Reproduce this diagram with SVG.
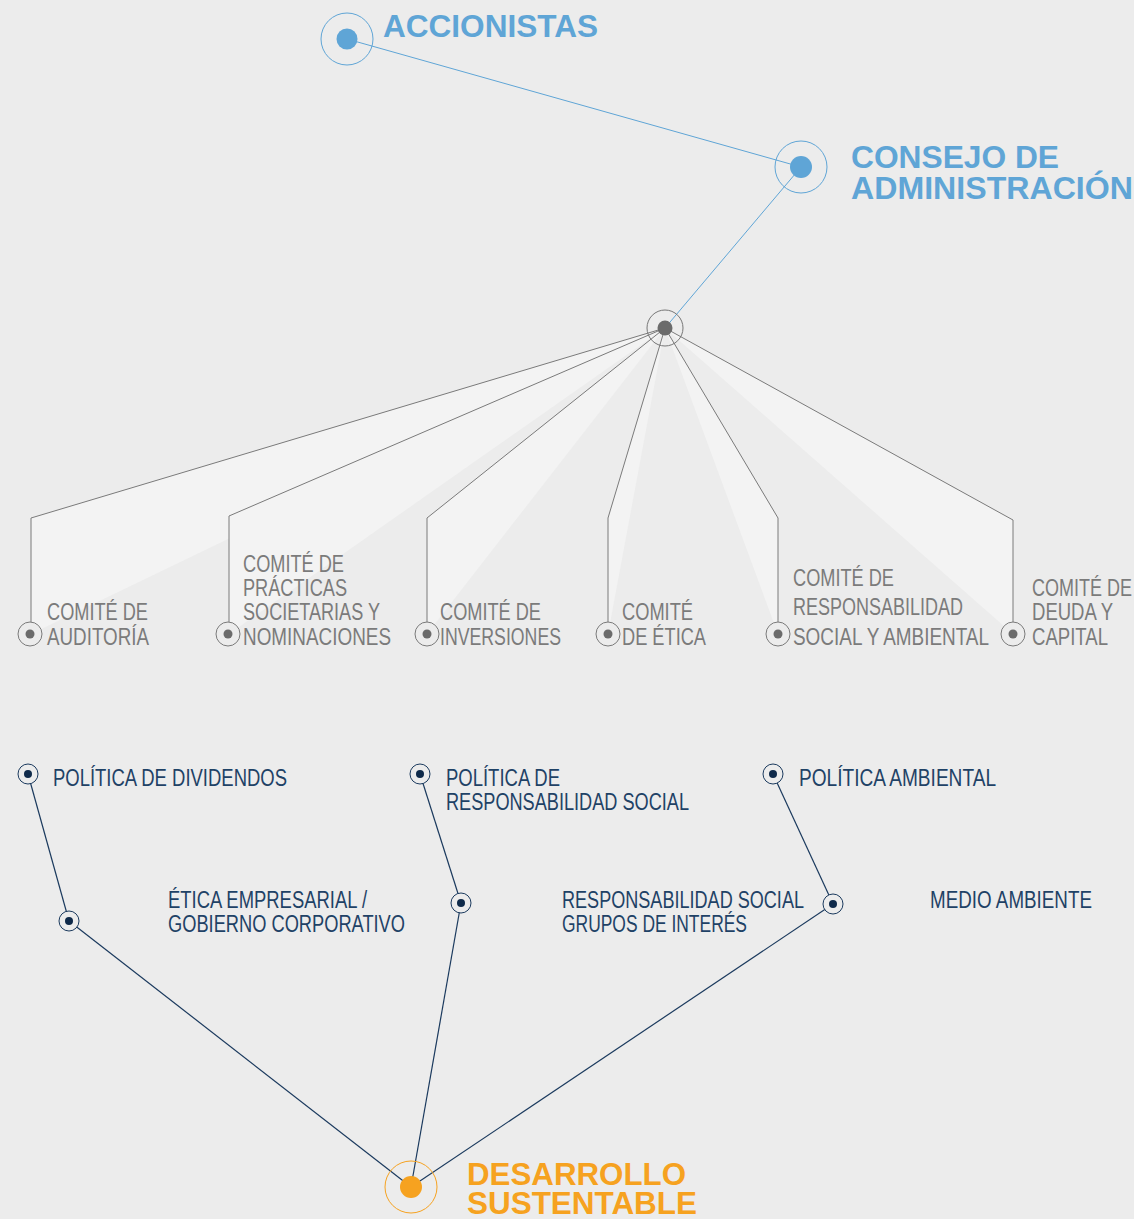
<svg xmlns="http://www.w3.org/2000/svg" width="1134" height="1219" viewBox="0 0 1134 1219">
<style>
.h{font-family:"Liberation Sans",Arial,sans-serif;font-weight:bold;font-size:31px}
.hb{fill:#5fa5d6}
.ho{fill:#f6a220}
.g{font-family:"Liberation Sans",Arial,sans-serif;font-size:23.5px;fill:#7b7b7b}
.n{font-family:"Liberation Sans",Arial,sans-serif;font-size:23px;fill:#1f4266}
.gl{fill:none;stroke:#7a7a7a;stroke-width:1}
.wedge{fill:#f3f3f3;stroke:none}
.nl{stroke:#1b3a5e;stroke-width:1.2;fill:none}
.bl{stroke:#5fa5d6;stroke-width:1;fill:none}
</style>
<rect width="1134" height="1219" fill="#ececec"/>

<g id="wedges">
<polygon class="wedge" points="665,328 31,518 31,634"/>
<polygon class="wedge" points="665,328 229,516 229,634"/>
<polygon class="wedge" points="665,328 427,518 427,634"/>
<polygon class="wedge" points="665,328 608,518 608,634"/>
<polygon class="wedge" points="665,328 778,518 778,634"/>
<polygon class="wedge" points="665,328 1013,520 1013,634"/>
</g>

<g id="connectors">
<line class="bl" x1="347" y1="39" x2="801" y2="167"/>
<line class="bl" x1="801" y1="167" x2="665" y2="328"/>
<polyline class="gl" points="665,328 31,518 31,634"/>
<polyline class="gl" points="665,328 229,516 229,634"/>
<polyline class="gl" points="665,328 427,518 427,634"/>
<polyline class="gl" points="665,328 608,518 608,634"/>
<polyline class="gl" points="665,328 778,518 778,634"/>
<polyline class="gl" points="665,328 1013,520 1013,634"/>
<line class="nl" x1="28" y1="774" x2="69" y2="921"/>
<line class="nl" x1="69" y1="921" x2="411" y2="1187"/>
<line class="nl" x1="420" y1="774" x2="461" y2="903"/>
<line class="nl" x1="461" y1="903" x2="411" y2="1187"/>
<line class="nl" x1="773" y1="774" x2="833" y2="904"/>
<line class="nl" x1="833" y1="904" x2="411" y2="1187"/>
</g>

<g id="accionistas">
<circle cx="347" cy="39" r="26" fill="none" stroke="#5fa5d6" stroke-width="1"/>
<circle cx="347" cy="39" r="10.5" fill="#5fa5d6"/>
<text class="h hb" x="383" y="37" textLength="215" lengthAdjust="spacingAndGlyphs">ACCIONISTAS</text>
</g>

<g id="consejo">
<circle cx="801" cy="167" r="26" fill="none" stroke="#5fa5d6" stroke-width="1"/>
<circle cx="801" cy="167" r="11" fill="#5fa5d6"/>
<text class="h hb" x="851" y="168" textLength="208" lengthAdjust="spacingAndGlyphs">CONSEJO DE</text>
<text class="h hb" x="851" y="199" textLength="282" lengthAdjust="spacingAndGlyphs">ADMINISTRACIÓN</text>
</g>

<g id="hub">
<circle cx="665" cy="328" r="18" fill="none" stroke="#777" stroke-width="1"/>
<circle cx="665" cy="328" r="7.5" fill="#6b6b6b"/>
</g>

<g id="auditoria">
<circle cx="30" cy="634" r="12" fill="#ececec" stroke="#7a7a7a" stroke-width="1"/>
<circle cx="30" cy="634" r="4.5" fill="#6b6b6b"/>
<text class="g" x="47" y="620" textLength="101" lengthAdjust="spacingAndGlyphs">COMITÉ DE</text>
<text class="g" x="47" y="645" textLength="102" lengthAdjust="spacingAndGlyphs">AUDITORÍA</text>
</g>

<g id="practicas">
<circle cx="228" cy="634" r="12" fill="#ececec" stroke="#7a7a7a" stroke-width="1"/>
<circle cx="228" cy="634" r="4.5" fill="#6b6b6b"/>
<text class="g" x="243" y="572" textLength="101" lengthAdjust="spacingAndGlyphs">COMITÉ DE</text>
<text class="g" x="243" y="596" textLength="104" lengthAdjust="spacingAndGlyphs">PRÁCTICAS</text>
<text class="g" x="243" y="620" textLength="137" lengthAdjust="spacingAndGlyphs">SOCIETARIAS Y</text>
<text class="g" x="243" y="645" textLength="148" lengthAdjust="spacingAndGlyphs">NOMINACIONES</text>
</g>

<g id="inversiones">
<circle cx="427" cy="634" r="12" fill="#ececec" stroke="#7a7a7a" stroke-width="1"/>
<circle cx="427" cy="634" r="4.5" fill="#6b6b6b"/>
<text class="g" x="440" y="620" textLength="101" lengthAdjust="spacingAndGlyphs">COMITÉ DE</text>
<text class="g" x="440" y="645" textLength="121" lengthAdjust="spacingAndGlyphs">INVERSIONES</text>
</g>

<g id="etica">
<circle cx="608" cy="634" r="12" fill="#ececec" stroke="#7a7a7a" stroke-width="1"/>
<circle cx="608" cy="634" r="4.5" fill="#6b6b6b"/>
<text class="g" x="622" y="620" textLength="71" lengthAdjust="spacingAndGlyphs">COMITÉ</text>
<text class="g" x="622" y="645" textLength="84" lengthAdjust="spacingAndGlyphs">DE ÉTICA</text>
</g>

<g id="responsabilidad">
<circle cx="778" cy="634" r="12" fill="#ececec" stroke="#7a7a7a" stroke-width="1"/>
<circle cx="778" cy="634" r="4.5" fill="#6b6b6b"/>
<text class="g" x="793" y="586" textLength="101" lengthAdjust="spacingAndGlyphs">COMITÉ DE</text>
<text class="g" x="793" y="615" textLength="170" lengthAdjust="spacingAndGlyphs">RESPONSABILIDAD</text>
<text class="g" x="793" y="645" textLength="196" lengthAdjust="spacingAndGlyphs">SOCIAL Y AMBIENTAL</text>
</g>

<g id="deuda">
<circle cx="1013" cy="634" r="12" fill="#ececec" stroke="#7a7a7a" stroke-width="1"/>
<circle cx="1013" cy="634" r="4.5" fill="#6b6b6b"/>
<text class="g" x="1032" y="596" textLength="100" lengthAdjust="spacingAndGlyphs">COMITÉ DE</text>
<text class="g" x="1032" y="620" textLength="81" lengthAdjust="spacingAndGlyphs">DEUDA Y</text>
<text class="g" x="1032" y="645" textLength="76" lengthAdjust="spacingAndGlyphs">CAPITAL</text>
</g>

<g id="politica-dividendos">
<circle cx="28" cy="774" r="10" fill="#ececec" stroke="#1b3a5e" stroke-width="1"/>
<circle cx="28" cy="774" r="4" fill="#0f2a4a"/>
<text class="n" x="53" y="786" textLength="234" lengthAdjust="spacingAndGlyphs">POLÍTICA DE DIVIDENDOS</text>
</g>

<g id="etica-empresarial">
<circle cx="69" cy="921" r="10" fill="#ececec" stroke="#1b3a5e" stroke-width="1"/>
<circle cx="69" cy="921" r="4" fill="#0f2a4a"/>
<text class="n" x="168" y="908" textLength="199" lengthAdjust="spacingAndGlyphs">ÉTICA EMPRESARIAL /</text>
<text class="n" x="168" y="932" textLength="237" lengthAdjust="spacingAndGlyphs">GOBIERNO CORPORATIVO</text>
</g>

<g id="politica-responsabilidad">
<circle cx="420" cy="774" r="10" fill="#ececec" stroke="#1b3a5e" stroke-width="1"/>
<circle cx="420" cy="774" r="4" fill="#0f2a4a"/>
<text class="n" x="446" y="786" textLength="114" lengthAdjust="spacingAndGlyphs">POLÍTICA DE</text>
<text class="n" x="446" y="810" textLength="243" lengthAdjust="spacingAndGlyphs">RESPONSABILIDAD SOCIAL</text>
</g>

<g id="responsabilidad-social">
<circle cx="461" cy="903" r="10" fill="#ececec" stroke="#1b3a5e" stroke-width="1"/>
<circle cx="461" cy="903" r="4" fill="#0f2a4a"/>
<text class="n" x="562" y="908" textLength="242" lengthAdjust="spacingAndGlyphs">RESPONSABILIDAD SOCIAL</text>
<text class="n" x="562" y="932" textLength="185" lengthAdjust="spacingAndGlyphs">GRUPOS DE INTERÉS</text>
</g>

<g id="politica-ambiental">
<circle cx="773" cy="774" r="10" fill="#ececec" stroke="#1b3a5e" stroke-width="1"/>
<circle cx="773" cy="774" r="4" fill="#0f2a4a"/>
<text class="n" x="799" y="786" textLength="197" lengthAdjust="spacingAndGlyphs">POLÍTICA AMBIENTAL</text>
</g>

<g id="medio-ambiente">
<circle cx="833" cy="904" r="10" fill="#ececec" stroke="#1b3a5e" stroke-width="1"/>
<circle cx="833" cy="904" r="4" fill="#0f2a4a"/>
<text class="n" x="930" y="908" textLength="162" lengthAdjust="spacingAndGlyphs">MEDIO AMBIENTE</text>
</g>

<g id="desarrollo">
<circle cx="411" cy="1187" r="26" fill="none" stroke="#f6a220" stroke-width="1"/>
<circle cx="411" cy="1187" r="11" fill="#f6a220"/>
<text class="h ho" x="467" y="1185" textLength="219" lengthAdjust="spacingAndGlyphs">DESARROLLO</text>
<text class="h ho" x="467" y="1214" textLength="230" lengthAdjust="spacingAndGlyphs">SUSTENTABLE</text>
</g>
</svg>
